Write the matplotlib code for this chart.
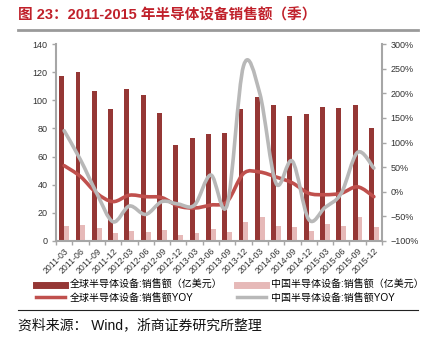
import numpy as np
import matplotlib
matplotlib.use("Agg")
import matplotlib.pyplot as plt
from matplotlib.path import Path
from matplotlib.patches import PathPatch
from matplotlib.lines import Line2D
from matplotlib.ticker import FuncFormatter

plt.rcParams["font.family"] = ["Liberation Sans", "Noto Sans CJK SC", "DejaVu Sans"]

QUARTERS = [
    "2011-03", "2011-06", "2011-09", "2011-12",
    "2012-03", "2012-06", "2012-09", "2012-12",
    "2013-03", "2013-06", "2013-09", "2013-12",
    "2014-03", "2014-06", "2014-09", "2014-12",
    "2015-03", "2015-06", "2015-09", "2015-12",
]
# 销售额（亿美元）
GLOBAL_SALES = [117, 120, 106.5, 94, 108, 104, 91, 68.5, 73.5, 76,
                77, 93.5, 102, 97, 89, 90, 95.5, 94.5, 97, 80.5]
CHINA_SALES = [10.7, 11.6, 9.5, 5.7, 7.1, 6.4, 7.8, 4.3, 5.9, 8.6,
               6.2, 13.8, 17.4, 10.7, 10.2, 6.9, 11.9, 10.7, 17.1, 10.2]
# 同比（%）
GLOBAL_YOY = [53, 31, -3, -20, -7, -10, -12, -29, -33, -27,
              -20, 37, 40, 30, 18, -3, -6, -3, 10, -10]
CHINA_YOY = [124, 65, -3, -61, -29, -46, -20, -25, -27, 34,
             -27, 255, 200, 17, 62, -56, -32, -3, 80, 48]

LABELS = [
    "全球半导体设备:销售额（亿美元）",
    "全球半导体设备:销售额YOY",
    "中国半导体设备:销售额（亿美元）",
    "中国半导体设备:销售额YOY",
]

DARK_RED = "#953735"
PINK = "#E6B9B8"
RED = "#C0504D"
GREY = "#B8B8B8"
AXIS = "#A6A6A6"
TITLE_RED = "#C0202A"

W, H = 430, 340


def smooth_path(xs, ys):
    """Catmull-Rom style bezier through the points (like Excel smoothed lines)."""
    n = len(xs)
    verts = [(xs[0], ys[0])]
    codes = [Path.MOVETO]
    for i in range(n - 1):
        a = i - 1 if i > 0 else i
        d = i + 2 if i + 2 < n else i + 1
        c1 = (xs[i] + (xs[i + 1] - xs[a]) / 6, ys[i] + (ys[i + 1] - ys[a]) / 6)
        c2 = (xs[i + 1] - (xs[d] - xs[i]) / 6, ys[i + 1] - (ys[d] - ys[i]) / 6)
        verts += [c1, c2, (xs[i + 1], ys[i + 1])]
        codes += [Path.CURVE4] * 3
    return Path(verts, codes)


fig = plt.figure(figsize=(W / 100, H / 100), dpi=100)
ax = fig.add_axes([56 / W, 1 - 241 / H, (382 - 56) / W, (241 - 44) / H])

x = np.arange(len(QUARTERS))
ax.bar(x - 0.15, GLOBAL_SALES, 0.3, color=DARK_RED, zorder=2)
ax.bar(x + 0.15, CHINA_SALES, 0.3, color=PINK, zorder=2)

ax.set_xlim(-0.5, len(QUARTERS) - 0.5)
ax.set_ylim(0, 140)
ax.set_yticks(range(0, 141, 20))
ax.set_xticks(x)
ax.set_xticklabels(QUARTERS, rotation=45, ha="right", rotation_mode="anchor")
ax.set_xticks(np.arange(len(QUARTERS) + 1) - 0.5, minor=True)
ax.tick_params(axis="x", which="major", length=0, pad=4, labelsize=6.3, labelcolor="#333333")
ax.tick_params(axis="x", which="minor", length=3, color=AXIS, width=1)
ax.tick_params(axis="y", length=3, color=AXIS, width=1, labelsize=6.5, labelcolor="#333333", pad=3)

ax2 = ax.twinx()
ax2.set_ylim(-100, 300)
ax2.set_yticks(range(-100, 301, 50))
ax2.yaxis.set_major_formatter(FuncFormatter(lambda v, _: f"{v:.0f}%".replace("-", "\u2212")))
ax2.tick_params(axis="y", length=3, color=AXIS, width=1, labelsize=6.5, labelcolor="#333333", pad=3)

ax2.add_patch(PathPatch(smooth_path(x, GLOBAL_YOY), fill=False, edgecolor=RED,
                        lw=2.6, capstyle="round", joinstyle="round", zorder=3))
ax2.add_patch(PathPatch(smooth_path(x, CHINA_YOY), fill=False, edgecolor=GREY,
                        lw=2.6, capstyle="round", joinstyle="round", zorder=4))

for a in (ax, ax2):
    a.spines["top"].set_visible(False)
ax.spines["right"].set_visible(False)
ax2.spines["left"].set_visible(False)
ax2.spines["bottom"].set_visible(False)
for s in (ax.spines["left"], ax.spines["bottom"], ax2.spines["right"]):
    s.set_color(AXIS)
    s.set_linewidth(1.5)

handles = [
    Line2D([], [], color=DARK_RED, lw=5),
    Line2D([], [], color=RED, lw=2.5),
    Line2D([], [], color=PINK, lw=5),
    Line2D([], [], color=GREY, lw=2.5),
]
fig.legend(handles, LABELS, ncol=2, loc="upper left",
           bbox_to_anchor=(36 / W, 1 - 280 / H), frameon=False,
           fontsize=7.2, handlelength=2.9, handletextpad=0.5,
           columnspacing=1.4, labelspacing=0.25, borderpad=0, borderaxespad=0)

# title, rules and source note
fig.text(18 / W, 1 - 15 / H, "图 23：2011-2015 年半导体设备销售额（季）",
         va="center", ha="left", fontsize=10.5, fontweight="bold", color=TITLE_RED)
fig.add_artist(Line2D([18 / W, 418 / W], [1 - 29.5 / H] * 2, color="#9A9A9A", lw=2))
fig.add_artist(Line2D([18 / W, 418 / W], [1 - 310 / H] * 2, color="#222222", lw=0.8))
fig.text(18 / W, 1 - 325 / H, "资料来源： Wind，浙商证券研究所整理",
         va="center", ha="left", fontsize=10, color="#111111")

fig.savefig("out.png", dpi=100)
